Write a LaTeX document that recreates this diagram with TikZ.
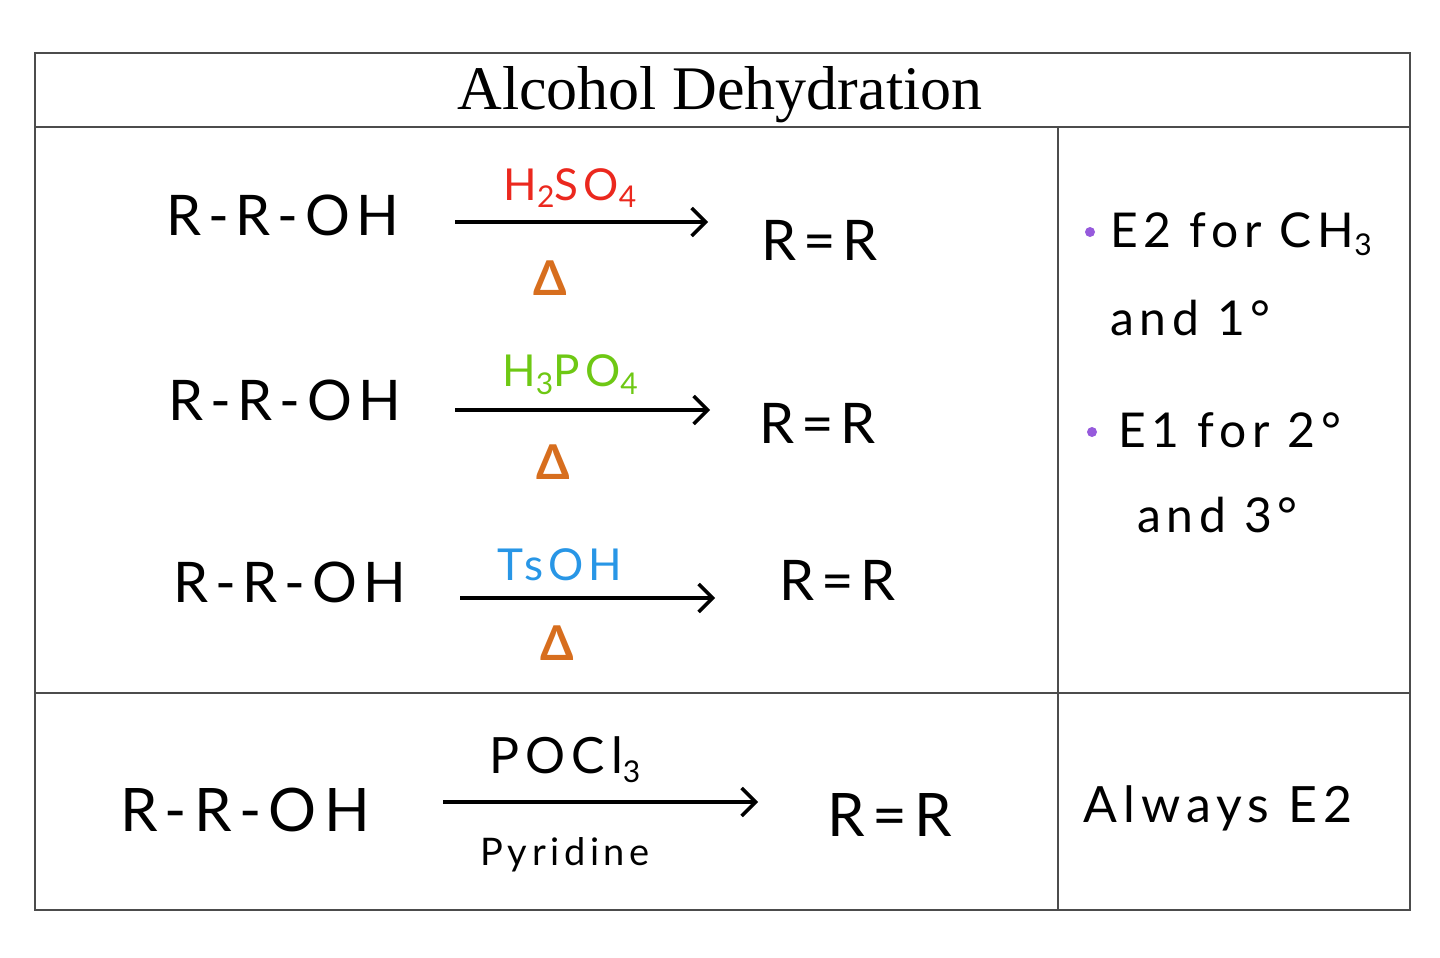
\documentclass[tikz,border=0pt]{standalone}
\usepackage{fontspec}
\setmainfont{Liberation Serif}
\newfontfamily\hand[LetterSpace=12]{Lato}
\usetikzlibrary{arrows.meta}
\definecolor{ored}{RGB}{235,40,30}
\definecolor{ogreen}{RGB}{110,200,20}
\definecolor{oblue}{RGB}{40,150,230}
\definecolor{oorange}{RGB}{215,110,30}
\definecolor{opurple}{RGB}{150,90,220}
\newcommand{\subs}[1]{\raisebox{-0.35ex}{\fontsize{30}{32}\selectfont #1}}
\tikzset{
 frame/.style={draw=black!70,line width=2.5pt},
 hw/.style={font=\hand\fontsize{56}{60}\selectfont,inner sep=0pt},
 nt/.style={font=\hand\fontsize{48}{52}\selectfont,inner sep=0pt,anchor=west},
 reag/.style={font=\hand\fontsize{44}{48}\selectfont,inner sep=0pt},
 rx/.style={line width=4pt,-{Straight Barb[length=14pt,width=28pt,line width=3.5pt]}},
 delta/.style={font=\hand\bfseries\fontsize{48}{52}\selectfont,text=oorange,inner sep=0pt},
 dot/.style={circle,fill=opurple,inner sep=0pt,minimum size=10pt}
}
\begin{document}
\begin{tikzpicture}[x=1pt,y=-1pt]
\useasboundingbox (0,0) rectangle (1440,958);
\draw[frame] (35,53) rectangle (1410,910);
\draw[frame] (35,127) -- (1410,127);
\draw[frame] (35,693) -- (1410,693);
\draw[frame] (1058,127) -- (1058,910);
\node[font=\fontsize{62}{66}\selectfont] (title) at (720,95) {Alcohol Dehydration};
% row 1
\node[hw] (a1) at (283,215) {R-R-OH};
\coordinate (s1) at (455,222); \coordinate (e1) at (708,222);
\draw[rx] (s1) -- (e1);
\node[reag,text=ored] (r1) at (570,188) {H\subs{2}SO\subs{4}};
\node[delta] (d1) at (550,278) {Δ};
\node[hw] (p1) at (820,240) {R=R};
% row 2
\node[hw] (a2) at (285,400) {R-R-OH};
\coordinate (s2) at (455,410); \coordinate (e2) at (710,410);
\draw[rx] (s2) -- (e2);
\node[reag,text=ogreen] (r2) at (570,375) {H\subs{3}PO\subs{4}};
\node[delta] (d2) at (553,462) {Δ};
\node[hw] (p2) at (818,423) {R=R};
% row 3
\node[hw] (a3) at (290,582) {R-R-OH};
\coordinate (s3) at (460,598); \coordinate (e3) at (715,598);
\draw[rx] (s3) -- (e3);
\node[reag,text=oblue] (r3) at (560,565) {TsOH};
\node[delta] (d3) at (557,643) {Δ};
\node[hw] (p3) at (838,580) {R=R};
% row 4
\node[hw,font=\hand\fontsize{60}{64}\selectfont] (a4) at (245,810) {R-R-OH};
\coordinate (s4) at (443,802); \coordinate (e4) at (758,802);
\draw[rx] (s4) -- (e4);
\node[reag,font=\hand\fontsize{50}{54}\selectfont] (r4) at (565,760) {POCl\subs{3}};
\node[reag,font=\hand\fontsize{38}{42}\selectfont] (py) at (565,855) {Pyridine};
\node[hw,font=\hand\fontsize{60}{64}\selectfont] (p4) at (890,815) {R=R};
\node[hw,font=\hand\fontsize{50}{54}\selectfont] (al) at (1218,808) {Always E2};
% right notes
\node[dot] (b1) at (1090,232) {};
\node[nt] (n1) at (1110,234) {E2 for CH\subs{3}};
\node[nt] (n2) at (1110,318) {and 1°};
\node[dot] (b2) at (1092,432) {};
\node[nt] (n3) at (1118,430) {E1 for 2°};
\node[nt] (n4) at (1137,515) {and 3°};
\end{tikzpicture}
\end{document}
